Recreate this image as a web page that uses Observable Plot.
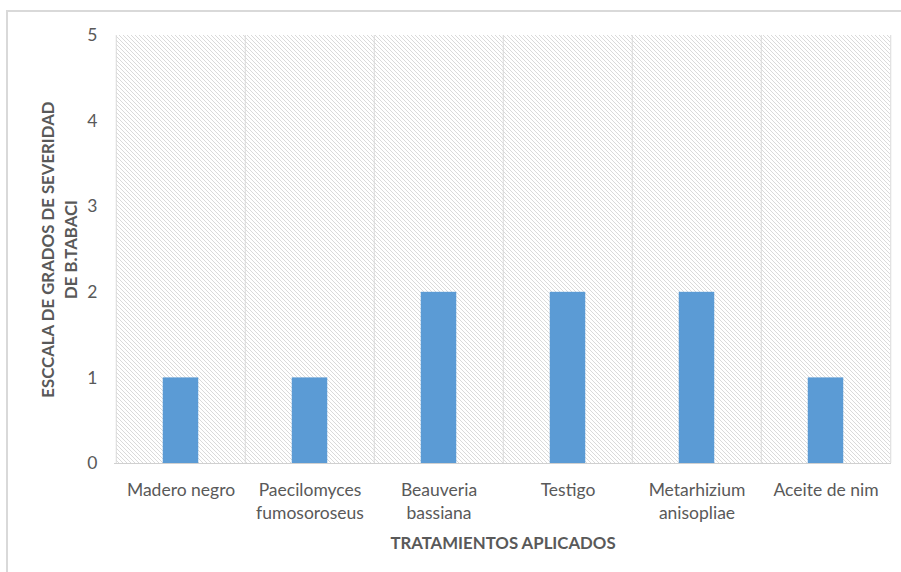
<!DOCTYPE html>
<html>
<head>
<meta charset="utf-8">
<script src="https://cdn.jsdelivr.net/npm/d3@7"></script>
<script src="https://cdn.jsdelivr.net/npm/@observablehq/plot@0.6"></script>
<style>
  html, body { margin: 0; padding: 0; background: #fff; }
  #wrap { position: relative; width: 901px; height: 572px; overflow: hidden; }
  #border { position: absolute; left: 6px; top: 10px; width: 960px; height: 620px;
            border-left: 2px solid #d9d9d9; border-top: 2px solid #d9d9d9; }
  #chart { position: absolute; left: 0; top: 0; }
  svg { font-family: Lato, "Open Sans", sans-serif; }
</style>
</head>
<body>
<div id="wrap"><div id="border"></div><div id="chart"></div></div>
<script>
const categories = ["Madero negro", "Paecilomyces fumosoroseus", "Beauveria bassiana", "Testigo", "Metarhizium anisopliae", "Aceite de nim"];
const tickLabels = ["Madero negro", "Paecilomyces\nfumosoroseus", "Beauveria\nbassiana", "Testigo", "Metarhizium\nanisopliae", "Aceite de nim"];
const values = [1, 1, 2, 2, 2, 1];
const yTicks = [0, 1, 2, 3, 4, 5];
const yTitle = "ESCCALA DE GRADOS DE SEVERIDAD\nDE B.TABACI";
const xTitle = "TRATAMIENTOS APLICADOS";

const data = categories.map((c, i) => ({category: c, value: values[i]}));

const W = 901, H = 572, ML = 114, MR = 10, MT = 35, MB = 109;
const bw = (W - ML - MR) / categories.length;
const barW = 36;
const grey = "#595959";
const grid = "#d9d9d9";

const plot = Plot.plot({
  width: W, height: H,
  marginLeft: ML, marginRight: MR, marginTop: MT, marginBottom: MB,
  style: {color: grey, fontSize: "17px", background: "transparent"},
  x: {domain: categories, padding: 0, label: null},
  y: {domain: [0, 5], label: null},
  marks: [
    Plot.barY(categories, {x: d => d, y1: 0, y2: 5, fill: "url(#hatch)"}),
    Plot.ruleX(categories, {x: d => d, dx: -bw / 2, stroke: grid, strokeWidth: 1}),
    Plot.ruleX(categories.slice(-1), {x: d => d, dx: bw / 2, stroke: grid, strokeWidth: 1}),
    Plot.ruleY([0], {stroke: "#d0d0d0", strokeWidth: 1}),
    Plot.barY(data, {x: "category", y: "value", fill: "#5b9bd5",
      insetLeft: (bw - barW) / 2, insetRight: (bw - barW) / 2}),
    Plot.axisY(yTicks, {tickSize: 0, tickPadding: 17, fontSize: 17.5, fill: grey, label: null,
      tickFormat: d => String(d)}),
    Plot.axisX(categories, {tickSize: 0, tickPadding: 16, fontSize: 17.5, fill: grey, label: null,
      lineHeight: 1.32, tickFormat: d => tickLabels[categories.indexOf(d)]}),
    Plot.text([xTitle], {frameAnchor: "bottom", dy: 85, text: d => d, fontWeight: "bold",
      fontSize: 16.8, fill: grey}),
    Plot.text([yTitle], {frameAnchor: "left", dx: -56, rotate: -90, text: d => d, fontWeight: "bold",
      textAnchor: "middle", fontSize: 16.8, fill: grey, lineHeight: 1.37})
  ]
});

const svg = d3.select(plot);
const defs = svg.insert("defs", ":first-child");
const pat = defs.append("pattern").attr("id", "hatch").attr("patternUnits", "userSpaceOnUse")
  .attr("width", 4).attr("height", 4);
pat.append("rect").attr("width", 4).attr("height", 4).attr("fill", "#ffffff");
pat.append("path").attr("d", "M-1,-1L5,5M-1,3L1,5M3,-1L5,1")
  .attr("stroke", "#dadada").attr("stroke-width", 1);

document.getElementById("chart").appendChild(plot);
</script>
</body>
</html>
